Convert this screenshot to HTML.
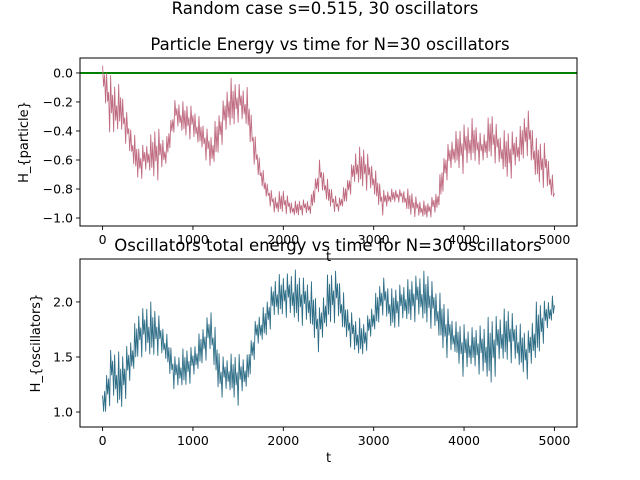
<!DOCTYPE html>
<html><head><meta charset="utf-8"><style>
body{margin:0;background:#fff}
svg{display:block;font-family:"DejaVu Sans","Liberation Sans",sans-serif}
</style></head><body>
<svg id="fig" width="640" height="480" viewBox="0 0 640 480">
<rect width="640" height="480" fill="#fff"/>
<text x="325" y="14" font-size="16.5" text-anchor="middle">Random case s=0.515, 30 oscillators</text>
<text x="330" y="50" font-size="16.5" text-anchor="middle">Particle Energy vs time for N=30 oscillators</text>
<g id="top"></g>
<g id="bot"></g>
<text x="328" y="251" font-size="16.5" text-anchor="middle">Oscillators total energy vs time for N=30 oscillators</text>
</svg>
<script>
const times=[0,100,200,300,400,500,600,700,800,900,1000,1100,1200,1300,1400,1500,1600,1700,1800,1900,2000,2100,2200,2300,2400,2500,2600,2700,2800,2900,3000,3100,3200,3300,3400,3500,3600,3700,3800,3900,4000,4100,4200,4300,4400,4500,4600,4700,4800,4900,5000];
const particleHi=[0.05,0.0,-0.1,-0.34,-0.5,-0.47,-0.34,-0.47,-0.18,-0.2,-0.22,-0.34,-0.4,-0.25,-0.03,-0.06,-0.1,-0.47,-0.73,-0.84,-0.8,-0.89,-0.87,-0.87,-0.59,-0.75,-0.87,-0.75,-0.52,-0.5,-0.64,-0.8,-0.8,-0.8,-0.8,-0.87,-0.89,-0.8,-0.5,-0.41,-0.34,-0.31,-0.43,-0.25,-0.41,-0.38,-0.41,-0.22,-0.45,-0.47,-0.77];
const particleLo=[-0.08,-0.5,-0.38,-0.57,-0.75,-0.68,-0.75,-0.64,-0.38,-0.43,-0.47,-0.52,-0.7,-0.52,-0.4,-0.34,-0.38,-0.7,-0.84,-0.98,-0.96,-0.99,-0.98,-0.98,-0.8,-0.91,-0.98,-0.89,-0.77,-0.8,-0.84,-0.98,-0.89,-0.89,-0.98,-1.0,-1.0,-0.98,-0.75,-0.64,-0.7,-0.61,-0.64,-0.59,-0.66,-0.75,-0.64,-0.57,-0.75,-0.8,-0.89];
const oscHi=[1.15,1.64,1.52,1.67,1.91,2.03,1.94,1.73,1.52,1.58,1.61,1.76,1.97,1.52,1.52,1.55,1.52,1.88,1.97,2.25,2.25,2.31,2.25,2.21,1.97,2.28,2.31,1.97,1.88,1.82,2.03,2.25,2.12,2.18,2.21,2.28,2.28,2.12,2.0,1.82,1.82,1.76,1.82,1.88,1.91,1.97,1.82,1.73,2.0,2.03,2.06];
const oscLo=[0.94,1.09,1.0,1.22,1.52,1.46,1.52,1.46,1.18,1.22,1.28,1.43,1.52,1.12,1.18,1.06,1.22,1.55,1.67,1.82,1.88,1.82,1.79,1.76,1.52,1.79,1.82,1.67,1.49,1.52,1.7,1.88,1.73,1.79,1.82,1.82,1.79,1.7,1.49,1.52,1.3,1.43,1.3,1.24,1.43,1.46,1.4,1.3,1.46,1.67,1.88];
const xTicks=[0,1000,2000,3000,4000,5000];
const topYTicks=[0.0,-0.2,-0.4,-0.6,-0.8,-1.0];
const botYTicks=[1.0,1.5,2.0];

const NS='http://www.w3.org/2000/svg';
function mk(parent,tag,attrs){const e=document.createElementNS(NS,tag);for(const k in attrs)e.setAttribute(k,attrs[k]);parent.appendChild(e);return e;}
const L=80,R=577;
const xs=t=>L+(t+250)/5500*(R-L);
const pattern=[1,0.2,0.75,0.05,0.9,0.35,0.6,0.0,0.95,0.45,0.7,0.15,0.85,0.3,0.55,0.1];

function panel(g,top,bottom,vmin,vmax,yTicks,fmt,hi,lo,color,ylabel,ylabelX,extra){
  const ys=v=>bottom-(v-vmin)/(vmax-vmin)*(bottom-top);
  if(extra){const gl=mk(g,'line',{x1:L,x2:R,y1:ys(0),y2:ys(0),stroke:'#008000','stroke-width':2});
    
    }
  let d='';let k=0;const SUB=9;
  for(let i=0;i<times.length-1;i++){
    for(let s=0;s<SUB;s++){
      const f=s/SUB;const t=times[i]+f*(times[i+1]-times[i]);
      const h=hi[i]+f*(hi[i+1]-hi[i]);const l=lo[i]+f*(lo[i+1]-lo[i]);
      const p=pattern[k%pattern.length];k++;
      const v=l+p*(h-l);
      d+=(d?'L':'M')+xs(t).toFixed(2)+' '+ys(v).toFixed(2);
    }
  }
  const n=times.length-1;d+='L'+xs(times[n]).toFixed(2)+' '+ys((hi[n]+lo[n])/2).toFixed(2);
  const path=mk(g,'path',{d:d,fill:'none',stroke:color,'stroke-width':0.9,'stroke-linejoin':'round'});
  
  
  const fr=mk(g,'rect',{x:L,y:top,width:R-L,height:bottom-top,fill:'none',stroke:'#000','stroke-width':1});
  
  
  for(const t of xTicks){
    const x=xs(t);
    mk(g,'line',{x1:x,x2:x,y1:bottom,y2:bottom+4,stroke:'#000','stroke-width':0.9});
    const tx=mk(g,'text',{x:x,y:bottom+18,'font-size':12.5,'text-anchor':'middle'});tx.textContent=t;
    
    
  }
  for(const v of yTicks){
    const y=ys(v);
    mk(g,'line',{x1:L-4,x2:L,y1:y,y2:y,stroke:'#000','stroke-width':0.9});
    const tx=mk(g,'text',{x:L-7,y:y+4.5,'font-size':12.5,'text-anchor':'end'});tx.textContent=fmt(v);
    
    
  }
  const xl=mk(g,'text',{x:(L+R)/2,y:bottom+35,'font-size':13,'text-anchor':'middle'});xl.textContent='t';
  
  
  const cy=(top+bottom)/2;
  const yl=mk(g,'text',{x:ylabelX,y:cy,'font-size':13,'text-anchor':'middle',transform:'rotate(-90 '+ylabelX+' '+cy+')'});yl.textContent=ylabel;
  
  
}
panel(document.getElementById('top'),58,226,-1.055,0.103,topYTicks,v=>v.toFixed(1).replace('-','\u2212'),particleHi,particleLo,'#bf6b80','H_{particle}',28,true);
panel(document.getElementById('bot'),259,427,0.864,2.39,botYTicks,v=>v.toFixed(1),oscHi,oscLo,'#2f6e87','H_{oscillators}',40,false);
</script>
</body></html>
